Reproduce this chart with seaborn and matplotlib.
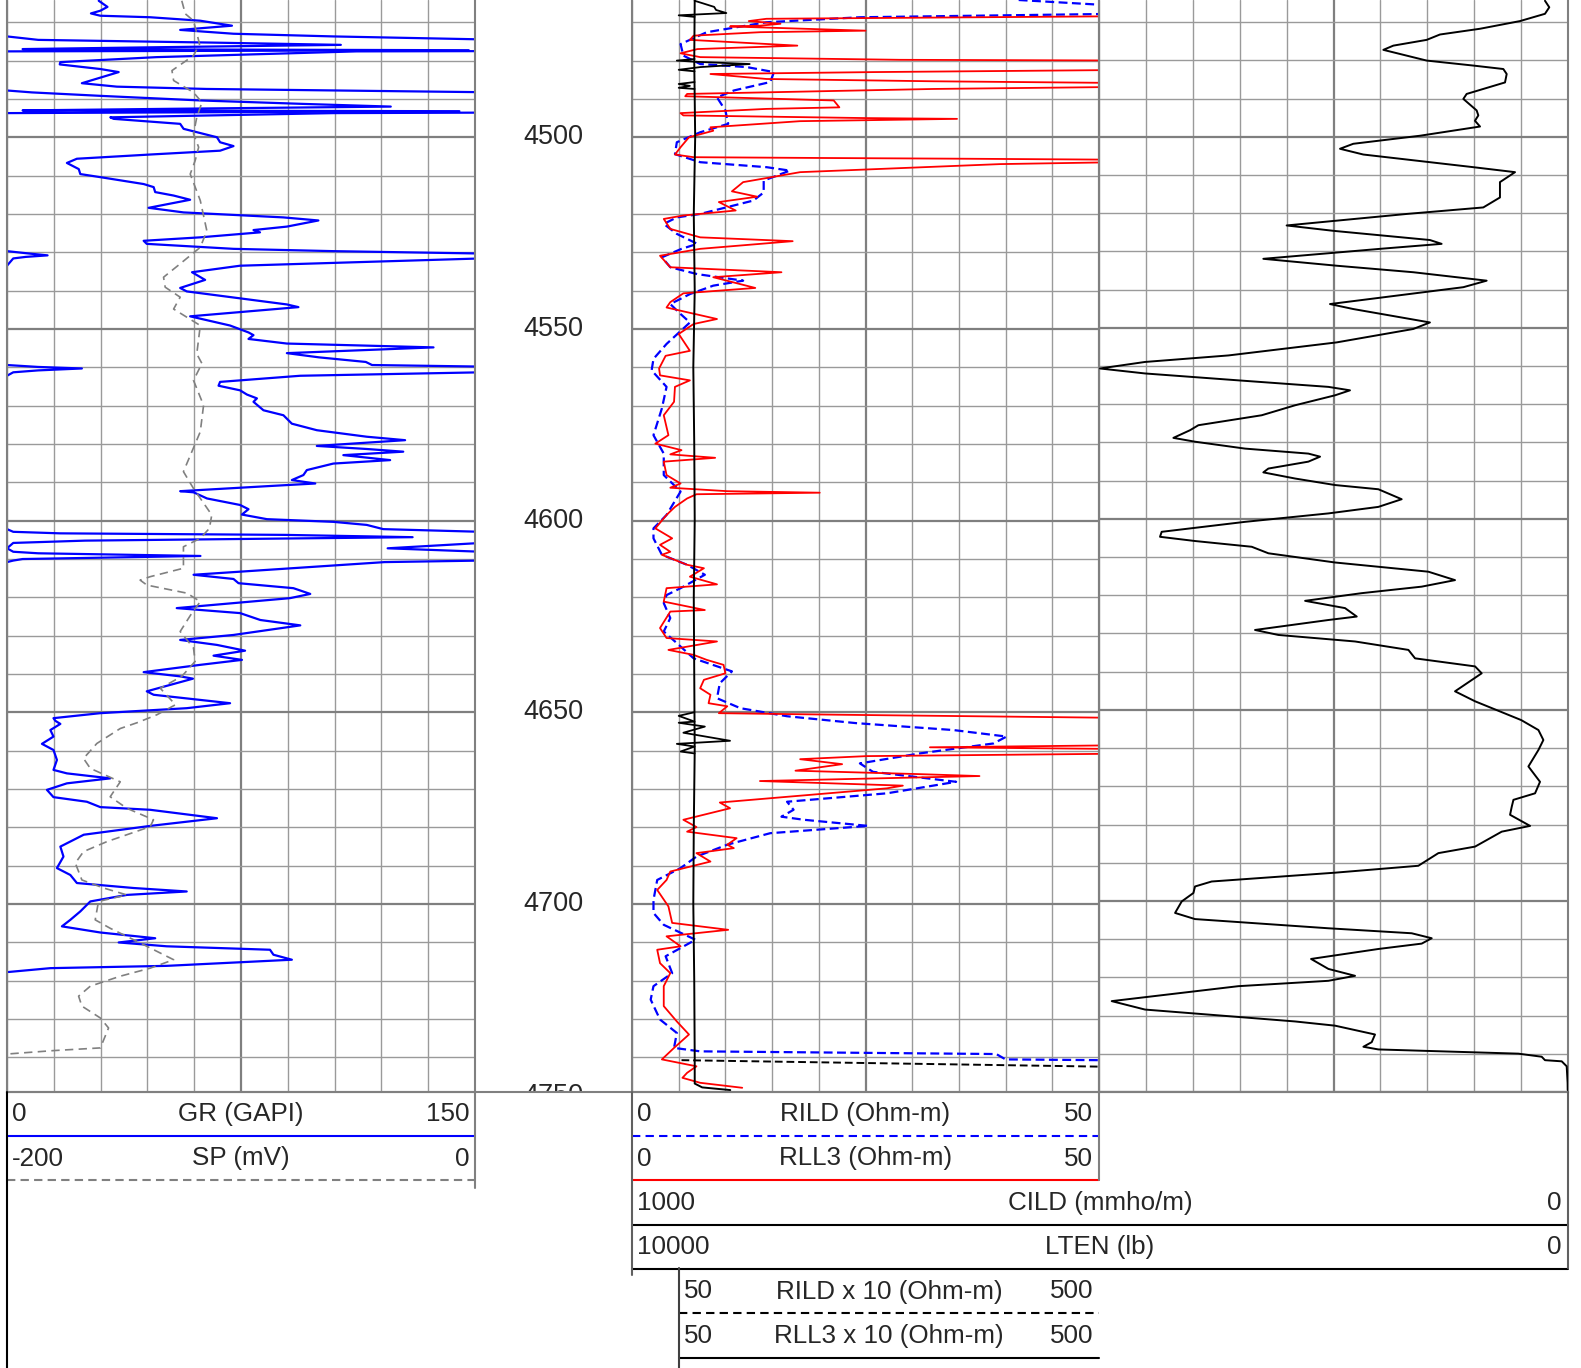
import numpy as np
import pandas as pd
import matplotlib
matplotlib.use("Agg")
import matplotlib.pyplot as plt
import seaborn as sns

# --- curve data (depth in ft) ---
gr_depth = [4464.4, 4466.0, 4467.0, 4467.7, 4468.3, 4468.7, 4469.6, 4470.9, 4472.0, 4473.0,
            4473.7, 4474.6, 4475.3, 4475.9, 4476.5, 4477.0, 4477.3, 4477.6, 4479.1, 4480.4,
            4481.0, 4482.2, 4483.0, 4485.9, 4486.8, 4487.4, 4487.8, 4488.3, 4489.2, 4490.4,
            4491.3, 4492.0, 4492.6, 4493.0, 4493.2, 4493.7, 4494.8, 4495.2, 4496.5, 4497.8,
            4500.0, 4501.3, 4502.3, 4503.5, 4504.5, 4505.6, 4506.7, 4508.3, 4509.6, 4510.4,
            4512.2, 4513.0, 4514.3, 4515.2, 4516.3, 4518.4, 4519.6, 4520.9, 4521.7, 4523.3,
            4524.2, 4524.8, 4526.1, 4527.0, 4527.8, 4529.1, 4529.7, 4530.4, 4530.8, 4531.2,
            4531.6, 4533.5, 4535.2, 4537.2, 4539.3, 4540.2, 4543.6, 4544.3, 4546.7, 4549.1,
            4550.9, 4551.6, 4552.6, 4553.8, 4554.8, 4556.3, 4557.4, 4558.6, 4559.4, 4559.9,
            4560.3, 4560.8, 4561.3, 4562.2, 4563.8, 4564.8, 4566.0, 4567.1, 4568.1, 4569.0,
            4571.2, 4572.5, 4574.7, 4576.4, 4578.1, 4579.0, 4580.5, 4581.3, 4582.0, 4582.9,
            4584.2, 4585.1, 4586.8, 4588.1, 4589.4, 4590.3, 4591.0, 4592.3, 4592.6, 4594.2,
            4595.9, 4597.0, 4598.4, 4599.6, 4600.3, 4601.1, 4602.2, 4602.9, 4603.3, 4603.7,
            4604.3, 4605.2, 4605.8, 4607.2, 4608.1, 4608.5, 4609.2, 4610.0, 4610.4, 4610.8,
            4614.1, 4615.2, 4616.3, 4617.6, 4619.1, 4620.2, 4621.5, 4622.8, 4624.1, 4625.9,
            4627.3, 4629.8, 4631.1, 4632.4, 4633.9, 4635.2, 4636.3, 4637.6, 4639.5, 4640.6,
            4641.2, 4644.5, 4645.4, 4647.6, 4648.9, 4650.2, 4651.5, 4652.2, 4653.0, 4654.6,
            4656.3, 4658.2, 4659.8, 4662.4, 4665.0, 4665.9, 4667.2, 4668.5, 4670.2, 4672.1,
            4673.3, 4674.7, 4675.4, 4677.6, 4679.6, 4681.9, 4685.0, 4687.6, 4690.6, 4692.4,
            4694.5, 4695.8, 4696.7, 4697.6, 4699.3, 4701.9, 4704.1, 4705.8, 4707.4, 4708.9,
            4710.0, 4711.0, 4711.9, 4713.2, 4714.5, 4716.1, 4716.7, 4717.7]
gr_value = [29.4, 32.2, 29.9, 26.9, 29.9, 45.9, 61.9, 72.1, 55.5, 72.6,
            104.6, 160, 215, 257, 200, 155, 298, 112, 48, 17.1,
            16.9, 29.9, 35.8, 24.0, 35.2, 64, 104.6, 158, 180, 212,
            245, 273, 200, 155, 295, 104.6, 33.1, 34.2, 55.5, 56.6,
            67.3, 68.3, 72.6, 68.3, 45.9, 22.4, 19.2, 23.0, 23.5, 29.9,
            43.8, 47.0, 47.5, 53.4, 58.7, 45.4, 56.6, 88.6, 99.8, 89.7,
            79.0, 81.1, 61.9, 43.8, 44.8, 72.6, 104.6, 158, 163, 156,
            152, 74.7, 59.3, 63.5, 55.5, 57.6, 89.7, 93.4, 58.7, 71.5,
            77.4, 79.0, 77.4, 89.7, 136.7, 89.7, 100, 115, 117, 160,
            174, 160, 152, 94, 68.3, 67.8, 74.7, 76.9, 80.1, 79.0,
            82.2, 88.6, 91.3, 99.3, 115.3, 127.6, 99.3, 115.3, 127.0, 107.8,
            122.8, 104.6, 96.1, 95.0, 91.3, 98.8, 83.3, 55.5, 59.8, 64.1,
            74.7, 77.4, 75.3, 83.3, 104.6, 115.3, 120.6, 152, 167, 239,
            280, 175, 152, 122, 152, 160, 212, 155, 152, 121,
            59.8, 72.6, 74.2, 91.8, 97.2, 90.7, 72.6, 54.4, 74.7, 81.2,
            94, 72.6, 55.5, 67.3, 76.3, 66.2, 75.3, 61.9, 43.8, 55.5,
            59.6, 44.8, 47, 71.5, 57.6, 29.9, 14.9, 15.5, 17.1, 13.9,
            14.9, 11.2, 14.9, 16.0, 14.9, 19.2, 33.1, 19.2, 12.8, 14.9,
            25.6, 29.9, 45.9, 67.3, 45.9, 24.6, 17.1, 18.1, 16.0, 20.3,
            22.4, 40.6, 57.6, 38.4, 26.7, 23.5, 20.3, 17.6, 29.9, 47.5,
            35.8, 51.2, 84.3, 85.4, 91.3, 51.2, 13.9, 0.5]

sp_depth = [4464.4, 4467.8, 4469.6, 4475.7, 4478.7, 4482.6, 4485.2, 4488.3, 4490.9, 4494.8,
            4499.1, 4502.6, 4506.1, 4509.6, 4516.5, 4524.4, 4528.7, 4533.0, 4536.5, 4539.1,
            4541.7, 4544.8, 4549.1, 4556.5, 4559.0, 4563.4, 4569.9, 4576.8, 4587.2, 4591.6,
            4598.5, 4602.0, 4604.6, 4606.8, 4610.7, 4612.4, 4614.6, 4615.5, 4616.8, 4618.9,
            4621.1, 4624.1, 4628.9, 4633.2, 4636.7, 4640.6, 4643.7, 4648.0, 4650.6, 4652.6,
            4654.2, 4658.1, 4662.0, 4664.6, 4668.1, 4672.0, 4675.0, 4678.0, 4679.8, 4683.7,
            4686.3, 4689.3, 4693.7, 4695.8, 4697.6, 4699.3, 4704.1, 4706.3, 4709.7, 4714.5,
            4716.7, 4718.8, 4721.4, 4724.0, 4726.6, 4729.7, 4732.3, 4737.5, 4738.2, 4739.1]
sp_value = [-125.3, -123.8, -120.3, -117.7, -120.3, -129.5, -128.8, -120.3, -116.7, -118.9,
            -120.3, -118.1, -119.6, -121.7, -117.4, -114.6, -117.4, -126.0, -133.1, -132.4,
            -126.0, -128.8, -117.4, -118.9, -116.7, -120.3, -116.0, -117.4, -124.6, -120.3,
            -112.5, -113.5, -117.4, -124.6, -124.6, -124.6, -138.8, -143.1, -140.2, -123.1,
            -117.4, -121.0, -126.0, -120.3, -119.6, -125.3, -134.5, -128.0, -135.9, -144.0,
            -151.6, -161.6, -167.3, -164.4, -151.6, -155.9, -148.8, -137.4, -138.8, -157.3,
            -167.3, -170.8, -168.0, -158.7, -148.8, -160.9, -162.3, -155.9, -144.5, -128.8,
            -138.8, -151.6, -164.4, -169.4, -168.0, -160.1, -156.6, -160.1, -180.1, -200.0]

rll3_depth = [4468.3, 4469.1, 4469.7, 4470.4, 4470.9, 4471.1, 4472.2, 4472.6, 4473.5, 4474.6,
              4476.1, 4477.0, 4478.1, 4479.1, 4479.8, 4480.0, 4482.4, 4483.0, 4483.5, 4484.8,
              4485.4, 4485.9, 4486.8, 4487.4, 4488.7, 4489.3, 4490.4, 4492.2, 4492.6, 4493.7,
              4494.3, 4495.0, 4495.2, 4495.8, 4497.4, 4498.3, 4500.0, 4502.6, 4504.5, 4505.2,
              4505.4, 4505.6, 4505.9, 4506.5, 4507.0, 4509.1, 4511.7, 4514.1, 4515.5, 4516.9,
              4519.1, 4520.4, 4521.3, 4523.9, 4526.1, 4527.1, 4529.1, 4530.9, 4533.9, 4535.2,
              4536.5, 4539.3, 4540.7, 4543.0, 4544.4, 4547.4, 4548.7, 4551.3, 4555.7, 4557.0,
              4560.3, 4562.1, 4563.4, 4565.1, 4569.0, 4572.5, 4577.7, 4579.9, 4581.6, 4582.7,
              4583.6, 4584.6, 4588.1, 4590.3, 4591.4, 4592.3, 4592.7, 4593.1, 4594.2, 4596.4,
              4598.5, 4602.0, 4604.6, 4606.3, 4608.1, 4608.9, 4611.5, 4612.4, 4614.6, 4616.6,
              4617.6, 4621.1, 4623.3, 4623.7, 4628.0, 4630.6, 4631.5, 4633.7, 4635.0, 4636.3,
              4637.6, 4639.8, 4641.5, 4643.7, 4645.4, 4647.6, 4648.4, 4650.2, 4650.6, 4651.5,
              4658.5, 4659.1, 4659.6, 4660.7, 4661.4, 4662.2, 4663.5, 4665.2, 4666.1, 4666.6,
              4667.9, 4669.1, 4669.8, 4673.5, 4675.0, 4678.0, 4679.9, 4681.1, 4682.8, 4684.5,
              4685.4, 4686.7, 4688.9, 4691.5, 4693.7, 4696.3, 4700.6, 4704.9, 4706.7, 4708.4,
              4711.0, 4711.9, 4715.4, 4718.0, 4721.4, 4726.6, 4730.6, 4734.0, 4737.5, 4740.5,
              4742.3, 4744.0, 4745.3, 4746.6, 4747.9]
rll3_value = [60, 14.4, 12.5, 15.9, 13.7, 10.5, 25.0, 13.7, 6.6, 6.2,
              17.7, 7.0, 5.2, 7.3, 28.7, 55, 55, 25.9, 8.4, 14.4,
              32.3, 55, 55, 32.3, 5.9, 5.7, 21.6, 22.2, 14.4, 5.2,
              5.5, 25.1, 34.8, 18.0, 8.4, 8.7, 6.1, 5.2, 4.6, 6.6,
              20.1, 35.8, 55, 52, 39.4, 18.0, 11.9, 10.7, 13.4, 9.3,
              11.1, 5.5, 3.4, 4.1, 7.3, 17.2, 7.3, 3.0, 4.1, 16.0,
              8.7, 13.2, 5.5, 4.1, 3.7, 9.1, 6.6, 5.0, 6.2, 3.6,
              2.9, 3.0, 6.2, 4.6, 4.5, 3.4, 3.9, 2.5, 5.3, 4.1,
              8.9, 3.4, 3.7, 5.2, 4.1, 10.2, 20.1, 6.9, 5.9, 4.6,
              3.7, 2.5, 4.3, 3.0, 4.1, 3.2, 5.9, 7.7, 6.2, 9.1,
              3.7, 3.4, 7.8, 4.1, 3.0, 3.7, 9.1, 3.9, 6.6, 8.0,
              9.8, 10.0, 7.7, 7.3, 8.4, 8.2, 10.2, 9.3, 21.9, 55,
              55, 31.9, 55, 55, 25.1, 18.0, 22.5, 17.5, 30.8, 37.2,
              13.7, 29.0, 27.3, 9.4, 10.5, 5.5, 6.9, 5.9, 11.2, 10.2,
              10.9, 6.9, 8.4, 4.1, 3.7, 2.7, 3.9, 4.3, 10.3, 3.7,
              5.2, 2.7, 3.0, 4.1, 3.4, 3.4, 4.8, 6.1, 4.5, 3.2,
              6.9, 5.9, 5.4, 7.3, 11.8]

rild_depth = [4464.2, 4465.7, 4467.8, 4468.7, 4470.0, 4472.6, 4475.7, 4478.7, 4480.9, 4481.7,
              4483.0, 4485.6, 4487.8, 4489.6, 4493.0, 4496.5, 4498.7, 4501.3, 4504.4, 4506.5,
              4507.8, 4508.7, 4511.3, 4514.4, 4516.5, 4520.0, 4520.9, 4522.6, 4525.2, 4527.8,
              4529.1, 4531.3, 4533.9, 4535.7, 4537.4, 4538.7, 4540.9, 4543.5, 4546.1, 4548.3,
              4553.9, 4557.8, 4560.8, 4565.1, 4570.7, 4577.7, 4582.5, 4588.1, 4592.4, 4598.5,
              4602.0, 4604.6, 4608.9, 4611.5, 4614.1, 4617.6, 4619.4, 4621.5, 4625.4, 4628.9,
              4631.5, 4635.9, 4639.3, 4642.4, 4646.3, 4648.9, 4651.0, 4652.8, 4654.6, 4656.3,
              4658.1, 4660.7, 4663.3, 4665.5, 4668.1, 4671.1, 4673.3, 4675.4, 4677.2, 4678.0,
              4679.6, 4681.5, 4684.5, 4687.6, 4690.6, 4693.7, 4698.9, 4702.3, 4705.4, 4709.3,
              4713.6, 4718.0, 4721.4, 4724.9, 4730.1, 4733.6, 4737.5, 4738.4, 4739.1, 4740.5,
              4740.7, 4740.9]
rild_value = [41.4, 52, 52, 24.4, 14.4, 8.0, 5.2, 5.5, 7.3, 12.3,
              15.2, 14.8, 10.9, 9.1, 10.0, 10.3, 7.3, 4.8, 4.6, 7.3,
              14.4, 16.9, 14.1, 14.1, 13.0, 7.3, 4.8, 3.4, 4.8, 7.0,
              5.3, 3.2, 4.1, 7.0, 11.9, 8.7, 6.2, 4.1, 5.2, 6.2,
              3.7, 2.3, 2.1, 3.7, 3.2, 2.3, 3.4, 3.4, 5.2, 3.7,
              2.3, 2.3, 3.2, 5.9, 7.8, 5.2, 3.7, 3.4, 4.1, 3.4,
              4.6, 6.6, 10.7, 9.4, 9.1, 11.6, 16.6, 24.0, 34.4, 40.1,
              38.7, 30.8, 24.4, 25.8, 34.7, 27.3, 16.6, 17.3, 16.0, 18.4,
              25.3, 14.8, 10.2, 6.9, 5.2, 2.7, 2.3, 2.3, 3.4, 6.8,
              3.6, 4.3, 2.3, 2.0, 3.0, 4.8, 4.5, 7.3, 39.0, 40.0,
              50.1, 55]

# backup curves on the x10 scale (0-500), NaN = gap
rll3x10_depth = [4464.4, 4465.0, 4466.0, 4466.8, 4467.6, 4468.2, 4468.6, 4470.0,
                 4479.6, 4480.0, 4480.3, 4480.9, 4481.7, 4482.4, 4482.8, 4484.0,
                 4485.6, 4486.1, 4486.6, 4487.1, 4487.4, 4490.0,
                 4650.0, 4650.9, 4652.4, 4652.7, 4653.7, 4655.3, 4657.4, 4658.2, 4658.9, 4660.2, 4660.7]
rll3x10_value = [67, 75, 88, 90, 101, 50, 67, np.nan,
                 67, 48, 67, 126, 73, 50, 67, np.nan,
                 67, 50, 62, 50, 67, np.nan,
                 66, 50, 67, 50, 78, 55, 105, 48, 67, 52, 67]
rildx10_depth = [4740.7, 4742.4]
rildx10_value = [53, 505]

cild_depth = [4464.4, 4466.1, 4467.8, 4469.7, 4471.7, 4473.2, 4474.6, 4476.1, 4477.2, 4480.0,
              4481.3, 4482.2, 4483.5, 4485.7, 4488.7, 4490.0, 4493.0, 4494.3, 4495.7, 4497.2,
              4499.6, 4501.7, 4503.0, 4504.5, 4507.8, 4509.1, 4511.7, 4515.7, 4518.3, 4520.0,
              4523.0, 4524.4, 4526.8, 4527.8, 4529.1, 4531.7, 4533.5, 4535.2, 4537.4, 4539.1,
              4541.3, 4543.5, 4544.8, 4548.3, 4550.0, 4553.5, 4556.9, 4558.6, 4560.3, 4561.6,
              4563.4, 4565.1, 4566.0, 4567.3, 4569.9, 4572.5, 4575.1, 4576.4, 4578.4, 4579.4,
              4581.2, 4582.5, 4583.3, 4584.6, 4586.4, 4587.4, 4589.0, 4590.7, 4591.8, 4594.4,
              4596.4, 4598.1, 4600.3, 4602.9, 4604.2, 4605.3, 4606.8, 4608.5, 4610.9, 4613.3,
              4615.5, 4617.2, 4618.9, 4620.9, 4622.8, 4625.0, 4625.9, 4628.5, 4629.8, 4631.5,
              4633.7, 4635.9, 4638.0, 4639.8, 4644.5, 4647.1, 4650.0, 4652.0, 4654.6, 4657.2,
              4659.8, 4664.1, 4668.1, 4671.1, 4672.8, 4674.6, 4676.7, 4679.6, 4681.1, 4685.0,
              4686.7, 4688.9, 4690.0, 4691.8, 4694.1, 4695.4, 4697.1, 4699.3, 4702.3, 4703.9,
              4706.3, 4707.6, 4708.9, 4710.3, 4711.7, 4714.3, 4716.9, 4718.7, 4720.0, 4721.4,
              4725.3, 4727.5, 4730.6, 4731.7, 4734.0, 4736.0, 4737.2, 4737.9, 4739.0, 4739.8,
              4740.7, 4741.0, 4742.3, 4746.6, 4748.5]
cild_value = [24.6, 20.0, 24.6, 51.3, 94.0, 136.8, 151.0, 186.6, 197.3, 151.0,
              101.2, 69.1, 65.5, 67.3, 108.3, 111.8, 97.6, 95.8, 99.4, 94.0,
              158.1, 229.4, 243.6, 218.7, 101.2, 56.6, 72.7, 72.7, 90.5, 172.4,
              300.6, 250.7, 147.5, 135.0, 200.9, 325.5, 247.2, 165.3, 86.9, 111.8,
              183.1, 254.3, 229.4, 147.5, 165.3, 247.2, 362.8, 451.9, 500.0, 451.9,
              352.2, 256.0, 232.9, 248.9, 291.6, 327.2, 394.9, 403.8, 421.6, 398.5,
              345.0, 277.4, 264.9, 277.4, 320.1, 325.5, 291.6, 248.9, 202.6, 177.7,
              202.6, 256.0, 345.0, 434.1, 435.9, 398.5, 337.9, 320.1, 248.9, 149.2,
              120.7, 156.3, 220.4, 280.9, 238.2, 225.7, 256.0, 334.4, 309.4, 227.5,
              170.5, 163.4, 99.3, 92.2, 120.7, 99.3, 70.0, 50.0, 31.6, 26.3,
              31.6, 42.3, 29.9, 35.2, 58.3, 60.1, 61.9, 40.5, 70.8, 99.3,
              138.5, 152.7, 159.9, 248.9, 380.7, 398.5, 400.2, 412.7, 419.8, 398.5,
              256.0, 167.0, 145.6, 156.3, 202.6, 274.5, 256.0, 227.5, 256.0, 352.2,
              487.5, 451.9, 291.6, 248.9, 206.2, 209.7, 218.6, 202.6, 53.0, 28.1,
              24.6, 6.7, 1.4, 0.4, 0.3]

lten_depth = [4464.2, 4480, 4500, 4520, 4540, 4560, 4580, 4600, 4620, 4640,
              4660, 4680, 4700, 4720, 4740, 4746.8, 4747.8, 4748.5]
lten_value = [9330, 9335, 9325, 9340, 9330, 9345, 9335, 9330, 9340, 9335,
              9330, 9340, 9345, 9335, 9330, 9330, 9250, 8950]

depth_labels = [4500, 4550, 4600, 4650, 4700, 4750]

# header rows: (left px, right px, row centre px, min, name, max, colour, style)
legend_rows = [
    (7, 475, 1114, "0", "GR (GAPI)", "150", "#0000ff", "-"),
    (7, 475, 1158.5, "-200", "SP (mV)", "0", "#808080", "--"),
    (632, 1099, 1114, "0", "RILD (Ohm-m)", "50", "#0000ff", "--"),
    (632, 1099, 1158.5, "0", "RLL3 (Ohm-m)", "50", "#ff0000", "-"),
    (632, 1568, 1203, "1000", "CILD (mmho/m)", "0", "black", "-"),
    (632, 1568, 1247, "10000", "LTEN (lb)", "0", "black", "-"),
    (679, 1099, 1291.5, "50", "RILD x 10 (Ohm-m)", "500", "black", "--"),
    (679, 1099, 1336, "50", "RLL3 x 10 (Ohm-m)", "500", "black", "-"),
]

sns.set_theme(style="white")
plt.rcParams["font.family"] = ["Liberation Sans", "DejaVu Sans"]

W, H = 1581, 1368
TOP, BOT = 4464.2, 4749.0
YB = 1092  # pixel row of the plot bottom
fig = plt.figure(figsize=(W / 100, H / 100), dpi=100)
fig.patch.set_facecolor("white")


def px_axes(x0, x1, y0=0, y1=YB):
    return fig.add_axes([x0 / W, 1 - y1 / H, (x1 - x0) / W, (y1 - y0) / H])


def track(ax, lo, hi):
    ax.set_xlim(lo, hi)
    ax.set_ylim(BOT, TOP)
    step = (hi - lo) / 10
    ax.set_xticks([lo + 5 * step])
    ax.set_xticks(np.linspace(lo, hi, 11), minor=True)
    ax.set_yticks(np.arange(4500, 4751, 50))
    ax.set_yticks(np.arange(4470, 4750, 10), minor=True)
    ax.grid(which="minor", color="#9a9a9a", lw=1.0)
    ax.grid(which="major", color="#7f7f7f", lw=1.6)
    ax.set_axisbelow(True)
    ax.tick_params(which="both", length=0, labelbottom=False, labelleft=False)
    for s in ax.spines.values():
        s.set_color("#808080")
        s.set_linewidth(1.5)
    ax.spines["top"].set_visible(False)


def overlay(base, lo, hi):
    ax = base.twiny()
    ax.set_xlim(lo, hi)
    ax.set_ylim(BOT, TOP)
    ax.axis("off")
    return ax


def curve(ax, depth, val, **kw):
    df = pd.DataFrame({"depth": depth, "val": val})
    df["seg"] = df["val"].isna().cumsum()
    df = df.dropna()
    sns.lineplot(data=df, x="val", y="depth", units="seg", estimator=None,
                 sort=False, orient="y", ax=ax, **kw)
    ax.set_xlabel("")
    ax.set_ylabel("")


# track 1: GR + SP
ax_gr = px_axes(7, 475)
track(ax_gr, 0, 150)
ax_sp = overlay(ax_gr, -200, 0)
curve(ax_sp, sp_depth, sp_value, color="#808080", linewidth=1.2, linestyle=(0, (5, 3.2)))
gr = np.array(gr_value, dtype=float)
over = gr > 150
near = over | np.r_[over[1:], False] | np.r_[False, over[:-1]]
gr_wrap = np.where(near, np.clip(gr - 150, 0, None), np.nan)
curve(ax_gr, gr_depth, gr, color="#0000ff", linewidth=1.6)
curve(ax_gr, gr_depth, gr_wrap, color="#0000ff", linewidth=1.6)

# depth track
ax_d = px_axes(475, 632)
ax_d.set_xlim(0, 1)
ax_d.set_ylim(BOT, TOP)
ax_d.axis("off")
for d in depth_labels:
    ax_d.text(0.5, d, str(d), ha="center", va="center", fontsize=19.5, clip_on=True)

# track 2: resistivity
ax_res = px_axes(632, 1099)
track(ax_res, 0, 50)
ax_x10 = overlay(ax_res, 0, 500)
curve(ax_res, rild_depth, rild_value, color="#0000ff", linewidth=1.6, linestyle=(0, (4, 2)))
curve(ax_res, rll3_depth, rll3_value, color="#ff0000", linewidth=1.3)
curve(ax_x10, rll3x10_depth, rll3x10_value, color="black", linewidth=1.3)
curve(ax_x10, rildx10_depth, rildx10_value, color="black", linewidth=1.4, linestyle=(0, (4, 2)))

# track 3
ax_t3 = px_axes(1099, 1568)
track(ax_t3, 0, 10)

# curves spanning tracks 2 and 3
ax_wide = px_axes(632, 1568)
ax_wide.set_ylim(BOT, TOP)
ax_wide.axis("off")
ax_cild = overlay(ax_wide, 1000, 0)
ax_lten = overlay(ax_wide, 10000, 0)
curve(ax_cild, cild_depth, cild_value, color="black", linewidth=1.4)
curve(ax_lten, lten_depth, lten_value, color="black", linewidth=1.4)

# header / curve scales
ax_h = fig.add_axes([0, 0, 1, 1])
ax_h.set_xlim(0, W)
ax_h.set_ylim(H, 0)
ax_h.axis("off")
ax_h.plot([7, 1568], [YB, YB], color="#808080", lw=1.5)
for x0, x1, yc, lo, name, hi, col, ls in legend_rows:
    ax_h.text(x0 + 5, yc, lo, ha="left", va="center", fontsize=18.7)
    ax_h.text((x0 + x1) / 2, yc, name, ha="center", va="center", fontsize=18.7)
    ax_h.text(x1 - 6, yc, hi, ha="right", va="center", fontsize=18.7)
    style = (0, (4, 2.5)) if ls == "--" else "-"
    ax_h.plot([x0, x1], [yc + 21.5, yc + 21.5], color=col, lw=1.5, linestyle=style)
for x, y0, y1, col in [(7, YB, H, "black"), (475, YB, 1188, "#808080"),
                       (632, YB, 1275, "#606060"), (1099, YB, 1180, "#808080"),
                       (1568, YB, 1268, "#606060"), (679, 1268, H, "#404040")]:
    ax_h.plot([x, x], [y0, y1], color=col, lw=1.5)

fig.savefig("out.png", dpi=100, facecolor="white")
